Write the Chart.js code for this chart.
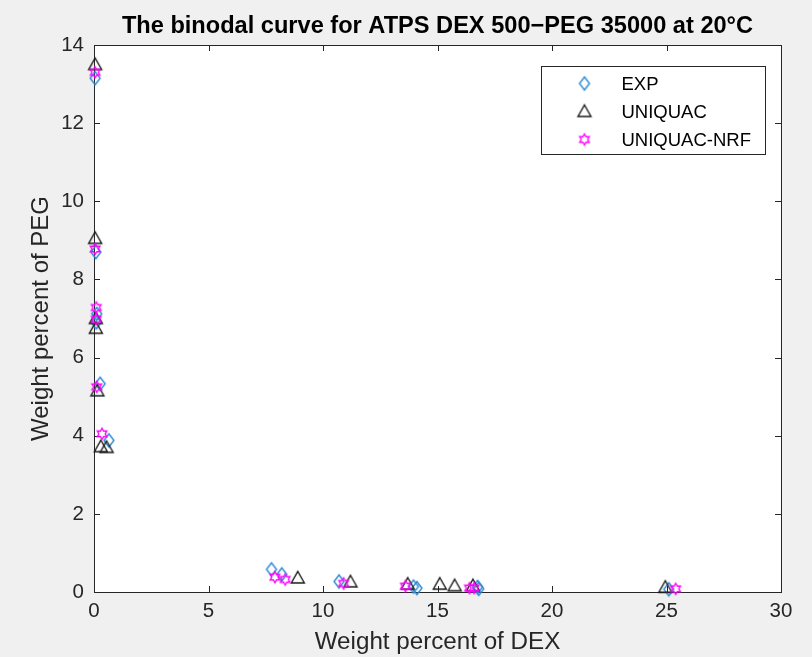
<!DOCTYPE html>
<html>
<head>
<meta charset="utf-8">
<script src="https://cdn.jsdelivr.net/npm/chart.js@4.4.0/dist/chart.umd.min.js"></script>
<style>
  html, body { margin: 0; padding: 0; background: #f0f0f0; }
  canvas { display: block; }
</style>
</head>
<body>
<canvas id="binodal" width="812" height="657"></canvas>
<script>
// values: weight % DEX (x) and weight % PEG (y)
const expDex = [0.05, 0.08, 0.12, 0.1, 0.27, 0.65, 7.75, 8.2, 10.7, 13.95, 14.1, 16.75, 16.8, 25.1];
const expPeg = [13.15, 8.7, 7.12, 6.9, 5.33, 3.88, 0.58, 0.45, 0.27, 0.14, 0.1, 0.13, 0.08, 0.07];

const uniDex = [0.05, 0.05, 0.08, 0.08, 0.15, 0.3, 0.55, 8.9, 11.2, 13.7, 15.1, 15.75, 16.55, 24.95];
const uniPeg = [13.5, 9.05, 7.0, 6.75, 5.15, 3.72, 3.7, 0.36, 0.26, 0.2, 0.2, 0.16, 0.16, 0.12];

const nrfDex = [0.05, 0.05, 0.1, 0.1, 0.12, 0.35, 7.9, 8.35, 10.9, 13.6, 16.4, 16.6, 25.4];
const nrfPeg = [13.3, 8.78, 7.28, 6.98, 5.25, 4.05, 0.38, 0.32, 0.22, 0.15, 0.1, 0.1, 0.08];

const xTicks = [0, 5, 10, 15, 20, 25, 30];
const yTicks = [0, 2, 4, 6, 8, 10, 12, 14];

const seriesNames = ['EXP', 'UNIQUAC', 'UNIQUAC-NRF'];
const titleText = 'The binodal curve for ATPS DEX 500\u2212PEG 35000 at 20\u00b0C';

const FONT = '"Liberation Sans", Arial, Helvetica, sans-serif';
const AXIS_COLOR = '#262626';

// MATLAB-like hollow markers drawn into small canvases
function makeMarker(color, pathFn) {
    const c = document.createElement('canvas');
    c.width = 18; c.height = 18;
    const g = c.getContext('2d');
    g.strokeStyle = color;
    g.lineWidth = 1.4;
    g.lineJoin = 'miter';
    g.beginPath();
    pathFn(g, 9, 9);
    g.closePath();
    g.stroke();
    return c;
}

const diamond = makeMarker('#2a8ad4', (g, cx, cy) => {
    g.moveTo(cx, cy - 6.5);
    g.lineTo(cx + 5, cy);
    g.lineTo(cx, cy + 6.5);
    g.lineTo(cx - 5, cy);
});

const triangle = makeMarker('#1a1a1a', (g, cx, cy) => {
    g.moveTo(cx, cy - 6.5);
    g.lineTo(cx + 6.5, cy + 5);
    g.lineTo(cx - 6.5, cy + 5);
});

const hexagram = makeMarker('#ff00ff', (g, cx, cy) => {
    const R = 5.5, r = R / Math.sqrt(3);
    for (let i = 0; i < 12; i++) {
        const ang = -Math.PI / 2 + i * Math.PI / 6;
        const rad = i % 2 === 0 ? R : r;
        const px = cx + rad * Math.cos(ang), py = cy + rad * Math.sin(ang);
        if (i === 0) g.moveTo(px, py); else g.lineTo(px, py);
    }
});

const markers = [diamond, triangle, hexagram];

function toPoints(xs, ys) {
    return xs.map((v, i) => ({ x: v, y: ys[i] }));
}

// white axes area, box, inward ticks and the title centred over the axes
const axesBox = {
    id: 'axesBox',
    beforeDraw(chart) {
        const { ctx, chartArea: a } = chart;
        ctx.save();
        ctx.fillStyle = '#f0f0f0';
        ctx.fillRect(0, 0, chart.width, chart.height);
        ctx.fillStyle = '#ffffff';
        ctx.fillRect(a.left, a.top, a.right - a.left, a.bottom - a.top);
        ctx.font = 'bold 23.6px ' + FONT;
        ctx.fillStyle = '#000000';
        ctx.textAlign = 'center';
        ctx.textBaseline = 'middle';
        ctx.fillText(titleText, (a.left + a.right) / 2, 26);
        ctx.restore();
    },
    beforeDatasetsDraw(chart) {
        const { ctx, chartArea: a, scales: { x, y } } = chart;
        const len = 6;
        ctx.save();
        ctx.strokeStyle = AXIS_COLOR;
        ctx.lineWidth = 1;
        ctx.beginPath();
        x.ticks.forEach(t => {
            const px = Math.round(x.getPixelForValue(t.value)) + 0.5;
            ctx.moveTo(px, a.bottom); ctx.lineTo(px, a.bottom - len);
            ctx.moveTo(px, a.top); ctx.lineTo(px, a.top + len);
        });
        y.ticks.forEach(t => {
            const py = Math.round(y.getPixelForValue(t.value)) + 0.5;
            ctx.moveTo(a.left, py); ctx.lineTo(a.left + len, py);
            ctx.moveTo(a.right, py); ctx.lineTo(a.right - len, py);
        });
        ctx.stroke();
        ctx.strokeRect(Math.round(a.left) + 0.5, Math.round(a.top) + 0.5,
            Math.round(a.right - a.left), Math.round(a.bottom - a.top));
        ctx.restore();
    }
};

// boxed legend in the upper right corner, like MATLAB's "northeast"
const boxLegend = {
    id: 'boxLegend',
    afterDraw(chart) {
        const { ctx, chartArea: a } = chart;
        const w = 224, h = 88;
        const left = Math.round(a.right - 16 - w) + 0.5;
        const top = Math.round(a.top + 21) + 0.5;
        ctx.save();
        ctx.fillStyle = '#ffffff';
        ctx.fillRect(left, top, w, h);
        ctx.strokeStyle = AXIS_COLOR;
        ctx.lineWidth = 1;
        ctx.strokeRect(left, top, w, h);
        ctx.font = '18.5px ' + FONT;
        ctx.fillStyle = '#000000';
        ctx.textBaseline = 'middle';
        seriesNames.forEach((name, i) => {
            const cy = top + 17 + i * 28;
            const m = markers[i];
            ctx.drawImage(m, left + 43 - m.width / 2, cy - m.height / 2);
            ctx.fillText(name, left + 80, cy + 1);
        });
        ctx.restore();
    }
};

new Chart(document.getElementById('binodal'), {
    type: 'scatter',
    data: {
        datasets: [
            { label: seriesNames[0], data: toPoints(expDex, expPeg), pointStyle: diamond, pointRadius: 6, clip: false, order: 2 },
            { label: seriesNames[1], data: toPoints(uniDex, uniPeg), pointStyle: triangle, pointRadius: 6, clip: false, order: 1 },
            { label: seriesNames[2], data: toPoints(nrfDex, nrfPeg), pointStyle: hexagram, pointRadius: 6, clip: false, order: 0 }
        ]
    },
    options: {
        responsive: false,
        animation: false,
        layout: { padding: { left: 0, right: 31, top: 45, bottom: 0 } },
        plugins: {
            legend: { display: false },
            tooltip: { enabled: false },
            title: { display: false }
        },
        scales: {
            x: {
                type: 'linear',
                min: 0, max: 30,
                afterBuildTicks: s => { s.ticks = xTicks.map(v => ({ value: v })); },
                afterFit: s => { s.height = 65; },
                grid: { display: false, drawTicks: false },
                border: { display: false },
                ticks: { color: AXIS_COLOR, padding: 7, font: { family: FONT, size: 20.5 } },
                title: {
                    display: true,
                    text: 'Weight percent of DEX',
                    color: AXIS_COLOR,
                    font: { family: FONT, size: 24.2 },
                    padding: { top: 0, bottom: 0 }
                }
            },
            y: {
                type: 'linear',
                min: 0, max: 14,
                afterBuildTicks: s => { s.ticks = yTicks.map(v => ({ value: v })); },
                afterFit: s => { s.width = 94; },
                grid: { display: false, drawTicks: false },
                border: { display: false },
                ticks: { color: AXIS_COLOR, padding: 10, font: { family: FONT, size: 20.5 } },
                title: {
                    display: true,
                    text: 'Weight percent of PEG',
                    color: AXIS_COLOR,
                    font: { family: FONT, size: 24 },
                    padding: { top: 27, bottom: 0 }
                }
            }
        }
    },
    plugins: [axesBox, boxLegend]
});
</script>
</body>
</html>
